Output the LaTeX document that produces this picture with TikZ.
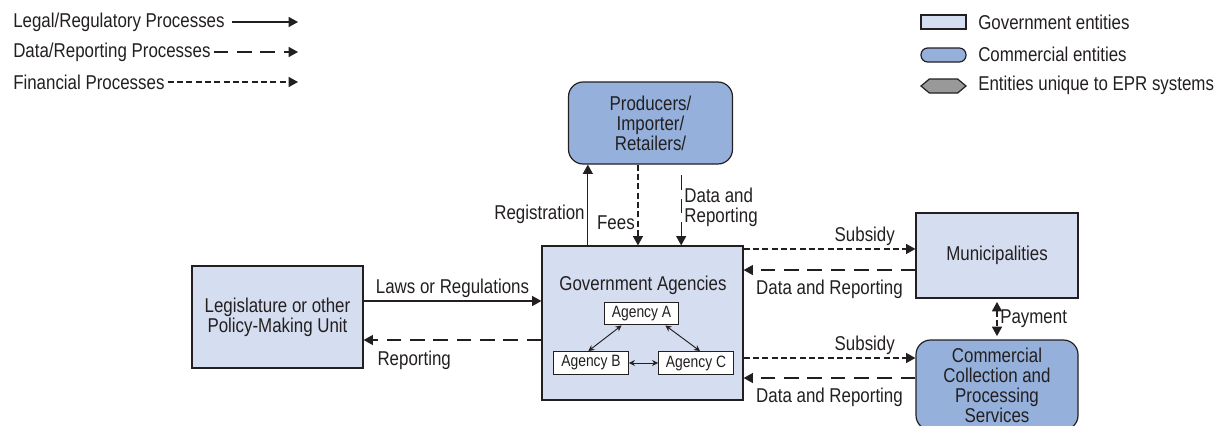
\documentclass[tikz,border=0pt]{standalone}
\usepackage{fontspec}
\setmainfont[FakeStretch=0.845]{Liberation Sans}
\usetikzlibrary{arrows.meta,shapes.symbols}
\definecolor{govblue}{HTML}{D5DEF0}
\definecolor{comblue}{HTML}{95B1DB}
\definecolor{eprgray}{HTML}{999999}
\definecolor{ink}{HTML}{231F20}
\begin{document}
\begin{tikzpicture}[x=0.75pt,y=-0.75pt,>={Triangle[length=7pt,width=7.5pt]},
  line width=0.9pt,color=ink,font=\fontsize{15}{15}\selectfont,
  govbox/.style={draw,fill=govblue,align=center,inner sep=2pt},
  combox/.style={draw,fill=comblue,rounded corners=11pt,align=center,inner sep=2pt},
  agbox/.style={draw,fill=white,font=\fontsize{12.3}{13}\selectfont,minimum width=56pt,minimum height=17pt,inner sep=1pt},
  agarrow/.style={{Stealth[length=4.5pt,width=4.5pt]}-{Stealth[length=4.5pt,width=4.5pt]},line width=0.7pt},
  legal/.style={->},
  datarep/.style={->,dash pattern=on 11pt off 6.5pt},
  finance/.style={->,dash pattern=on 4.5pt off 2.5pt},
  lbl/.style={inner sep=2pt}]
\useasboundingbox (0,0) rectangle (1216,425);
\clip (0,0) rectangle (1216,425);
\node[lbl,anchor=west] (lglegal) at (10,22) {Legal/Regulatory Processes};
\node[lbl,anchor=west] (lgdata) at (10,52) {Data/Reporting Processes};
\node[lbl,anchor=west] (lgfin) at (10,82) {Financial Processes};
\coordinate (lgend) at (298,0);
\draw[legal] ([xshift=3pt]lglegal.east) -- (lglegal.east -| lgend);
\draw[datarep] (lgdata.east) -- (lgdata.east -| lgend);
\draw[finance] (lgfin.east) -- (lgfin.east -| lgend);
\node[govbox,minimum width=33.75pt,minimum height=10.5pt] (kgov) at (943.5,22) {};
\node[combox,rounded corners=5pt,minimum width=33.75pt,minimum height=10.5pt] (kcom) at (943.5,55) {};
\node[draw,fill=eprgray,signal,signal to=east and west,signal pointer angle=80,minimum width=33.75pt,minimum height=10.5pt,inner sep=0pt] (kepr) at (943.5,86) {};
\node[lbl,anchor=west] (kgovt) at (975,22) {Government entities};
\node[lbl,anchor=west] (kcomt) at (975,54) {Commercial entities};
\node[lbl,anchor=west] (keprt) at (975,85) {Entities unique to EPR systems};
\node[combox,minimum width=123pt,minimum height=61.5pt] (prod) at (650.5,123) {Producers/\\Importer/\\Retailers/};
\node[govbox,minimum width=150.75pt,minimum height=115.5pt] (gov) at (642.5,323) {};
\node (govt) at (643,285) {Government Agencies};
\node[agbox] (agA) at (641.5,313.5) {Agency A};
\node[agbox] (agB) at (591,363) {Agency B};
\node[agbox] (agC) at (696,363) {Agency C};
\node[govbox,minimum width=128.25pt,minimum height=76.5pt] (leg) at (277.5,317) {Legislature or other\\Policy-Making Unit};
\node[govbox,minimum width=121.5pt,minimum height=63.75pt] (muni) at (997,255.5) {Municipalities};
\node[combox,minimum width=121.5pt,minimum height=67.5pt] (comm) at (997,385) {Commercial\\Collection and\\Processing\\Services};
\draw[legal] ([xshift=-41pt]gov.north) -- ([xshift=-41pt]gov.north |- prod.south) node[lbl,left,pos=.38]{Registration};
\draw[finance] ([xshift=-9.4pt]prod.south) -- ([xshift=-9.4pt]prod.south |- gov.north) node[lbl,left,pos=.72]{Fees};
\draw[datarep] ([xshift=23pt,yshift=-8pt]prod.south) -- ([xshift=23pt]prod.south |- gov.north) node[lbl,right,align=left,pos=.45]{Data and\\Reporting};
\draw[legal] ([yshift=12pt]leg.east) -- ([yshift=12pt]leg.east -| gov.west) node[lbl,above,midway]{Laws or Regulations};
\draw[datarep] ([yshift=-17.25pt]leg.east -| gov.west) -- ([yshift=-17.25pt]leg.east) node[lbl,pos=1,anchor=north west,xshift=8pt,yshift=-6pt]{Reporting};
\draw[finance] ([yshift=4.9pt]muni.west -| gov.east) -- ([yshift=4.9pt]muni.west) node[lbl,pos=1,anchor=south east,xshift=-13pt]{Subsidy};
\draw[datarep] ([yshift=-10.9pt]muni.west) -- ([yshift=-10.9pt]muni.west -| gov.east) node[lbl,below,midway,yshift=-5pt]{Data and Reporting};
\draw[finance,<->,shorten <=2.5pt,shorten >=2.5pt] (muni.south) -- (comm.north) node[lbl,right,midway]{Payment};
\draw[finance] ([yshift=20.25pt]comm.west -| gov.east) -- ([yshift=20.25pt]comm.west) node[lbl,pos=1,anchor=south east,xshift=-13pt]{Subsidy};
\draw[datarep] ([yshift=5.25pt]comm.west) -- ([yshift=5.25pt]comm.west -| gov.east) node[lbl,below,midway,yshift=-5pt]{Data and Reporting};
\draw[agarrow] ([xshift=13.5pt]agA.south west) -- ([xshift=-2pt]agB.north);
\draw[agarrow] ([xshift=-10.5pt]agA.south east) -- ([xshift=3pt]agC.north);
\draw[agarrow] (agB) -- (agC);
\end{tikzpicture}
\end{document}
